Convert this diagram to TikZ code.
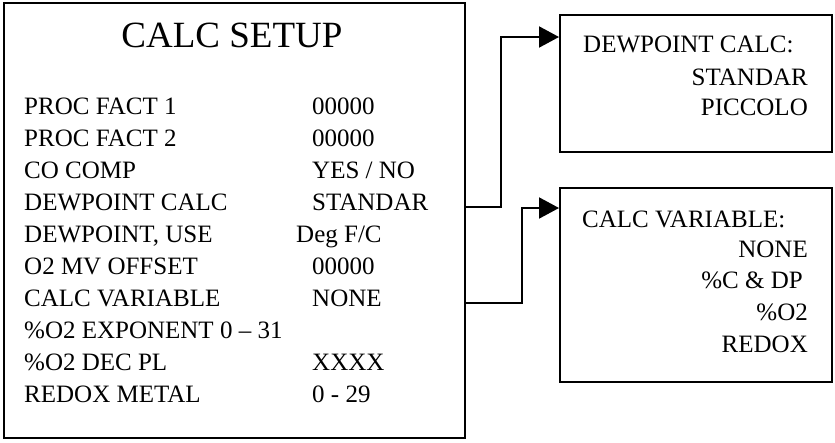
\documentclass[tikz,border=0pt]{standalone}
\usepackage{fontspec}
\setmainfont{Liberation Serif}
\usetikzlibrary{arrows.meta, positioning}

\begin{document}
\begin{tikzpicture}[
        x=1pt, y=-1pt,
        panel/.style={rectangle, draw, line width=2pt, inner sep=0pt},
        entry/.style={inner sep=0pt, font=\fontsize{25}{29}\selectfont},
        link/.style={-{Triangle[length=20pt, width=21pt]}, line width=2pt}
        ]
        \useasboundingbox (0,0) rectangle (835,442);

        % main setup panel
        \node[panel, minimum width=461pt, minimum height=435pt] (setup) at (234.5,220.5) {};
        \node[inner sep=0pt, anchor=base, font=\fontsize{37}{40}\selectfont] (title) at (232,47) {CALC SETUP};
        \foreach \i/\lab/\val/\vx in {1/PROC FACT 1/00000/312, 2/PROC FACT 2/00000/312,
                3/CO COMP/{YES / NO}/312, 4/DEWPOINT CALC/STANDAR/312,
                5/{DEWPOINT, USE}/{Deg F/C}/296, 6/O2 MV OFFSET/00000/312,
                7/CALC VARIABLE/NONE/312, 8/\%O2 EXPONENT 0 -- 31//312,
                9/\%O2 DEC PL/XXXX/312, 10/REDOX METAL/0 - 29/312}{
            \node[entry, anchor=base west] (lab\i) at (24,{83+31.9*\i}) {\lab};
            \node[entry, anchor=base west] (val\i) at (\vx,{83+31.9*\i}) {\val};
        }

        % option panels
        \node[panel, minimum width=272pt, minimum height=137pt] (dpbox) at (696,83.5) {};
        \node[entry, anchor=base west] (dphead) at (583,52) {DEWPOINT CALC:};
        \node[entry, anchor=base east] (dpstd) at (808,85) {STANDAR};
        \node[entry, anchor=base east] (dppic) at (808,115) {PICCOLO};

        \node[panel, minimum width=272pt, minimum height=194pt] (cvbox) at (696,285) {};
        \node[entry, anchor=base west] (cvhead) at (582,227) {CALC VARIABLE:};
        \node[entry, anchor=base east] (cvnone) at (808,257) {NONE};
        \node[entry, anchor=base east] (cvcdp) at (803,288) {\%C \& DP};
        \node[entry, anchor=base east] (cvo2) at (808,320) {\%O2};
        \node[entry, anchor=base east] (cvredox) at (808,352) {REDOX};

        % connectors
        \coordinate (bend1) at (501,207);
        \coordinate (bend2) at (522,303);
        \coordinate (dpin) at (560,37);
        \coordinate (cvin) at (560,208);
        \draw[link] (setup.east |- bend1) -- (bend1) |- (dpbox.west |- dpin);
        \draw[link] (setup.east |- bend2) -- (bend2) |- (cvbox.west |- cvin);
    \end{tikzpicture}
\end{document}
